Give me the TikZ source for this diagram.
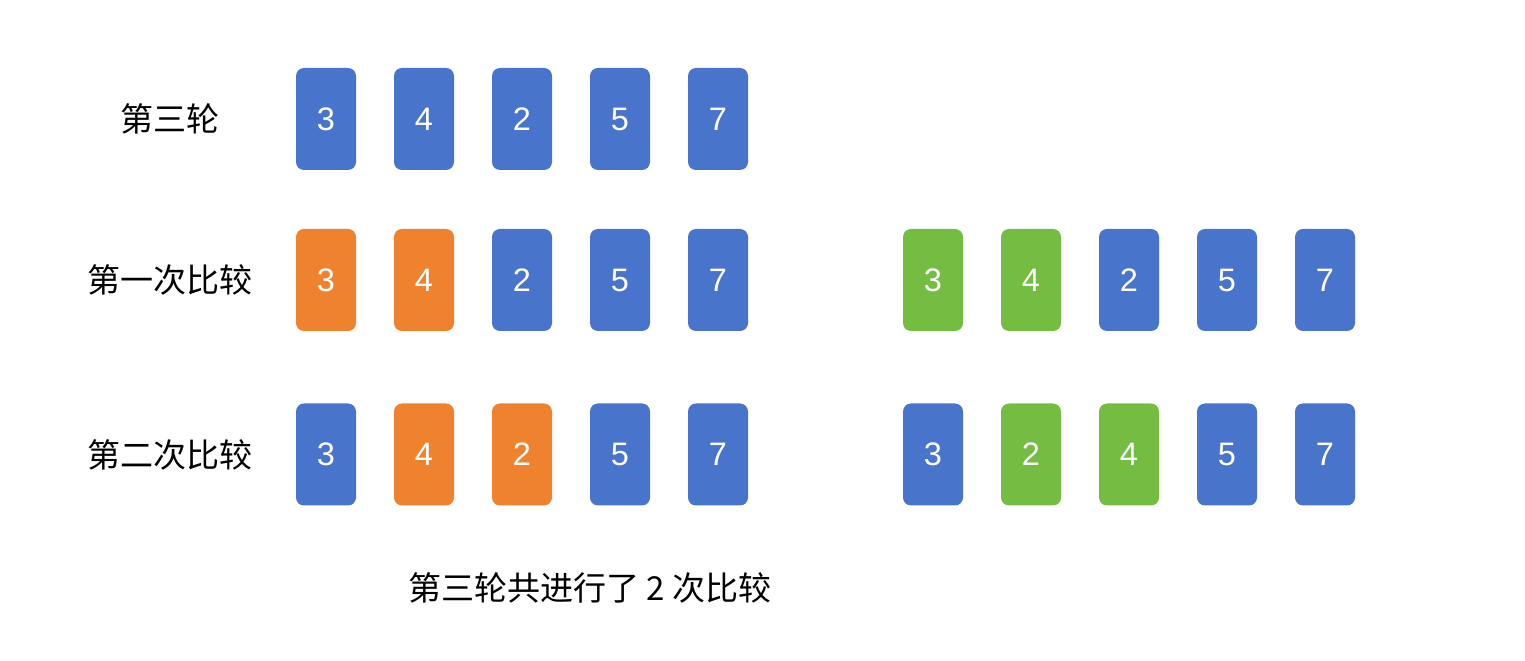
\documentclass[tikz,border=0pt]{standalone}
\usepackage{fontspec}
\setmainfont{Liberation Sans}
\newfontfamily\cjk{Noto Sans CJK SC}
\definecolor{cardblue}{HTML}{4874CB}
\definecolor{cardorange}{HTML}{EE822F}
\definecolor{cardgreen}{HTML}{75BD42}
\begin{document}
\begin{tikzpicture}[
    card/.style={rounded corners=0.16cm, minimum width=1.2cm, minimum height=2.04cm, inner sep=0pt, text=white, font=\fontsize{18.5}{22}\selectfont},
    bluecard/.style={card, fill=cardblue},
    orangecard/.style={card, fill=cardorange},
    greencard/.style={card, fill=cardgreen},
    rowlabel/.style={font=\cjk\fontsize{18.8}{22}\selectfont}
]
    \useasboundingbox (0,0) rectangle (30.5,13.22);

    % row labels
    \node[rowlabel] (round3) at (3.4, 10.84) {第三轮};
    \node[rowlabel] (cmp1) at (3.4, 7.62) {第一次比较};
    \node[rowlabel] (cmp2) at (3.4, 4.13) {第二次比较};

    % start of round 3
    \node[bluecard] (a1) at (6.52, 10.84) {3};
    \node[bluecard] (a2) at (8.48, 10.84) {4};
    \node[bluecard] (a3) at (10.44, 10.84) {2};
    \node[bluecard] (a4) at (12.40, 10.84) {5};
    \node[bluecard] (a5) at (14.36, 10.84) {7};

    % first comparison
    \node[orangecard] (b1) at (6.52, 7.62) {3};
    \node[orangecard] (b2) at (8.48, 7.62) {4};
    \node[bluecard] (b3) at (10.44, 7.62) {2};
    \node[bluecard] (b4) at (12.40, 7.62) {5};
    \node[bluecard] (b5) at (14.36, 7.62) {7};

    \node[greencard] (b6) at (18.66, 7.62) {3};
    \node[greencard] (b7) at (20.62, 7.62) {4};
    \node[bluecard] (b8) at (22.58, 7.62) {2};
    \node[bluecard] (b9) at (24.54, 7.62) {5};
    \node[bluecard] (b10) at (26.50, 7.62) {7};

    % second comparison
    \node[bluecard] (c1) at (6.52, 4.13) {3};
    \node[orangecard] (c2) at (8.48, 4.13) {4};
    \node[orangecard] (c3) at (10.44, 4.13) {2};
    \node[bluecard] (c4) at (12.40, 4.13) {5};
    \node[bluecard] (c5) at (14.36, 4.13) {7};

    \node[bluecard] (c6) at (18.66, 4.13) {3};
    \node[greencard] (c7) at (20.62, 4.13) {2};
    \node[greencard] (c8) at (22.58, 4.13) {4};
    \node[bluecard] (c9) at (24.54, 4.13) {5};
    \node[bluecard] (c10) at (26.50, 4.13) {7};

    \node[rowlabel] (summary) at (11.8, 1.46) {第三轮共进行了 2 次比较};
\end{tikzpicture}
\end{document}
